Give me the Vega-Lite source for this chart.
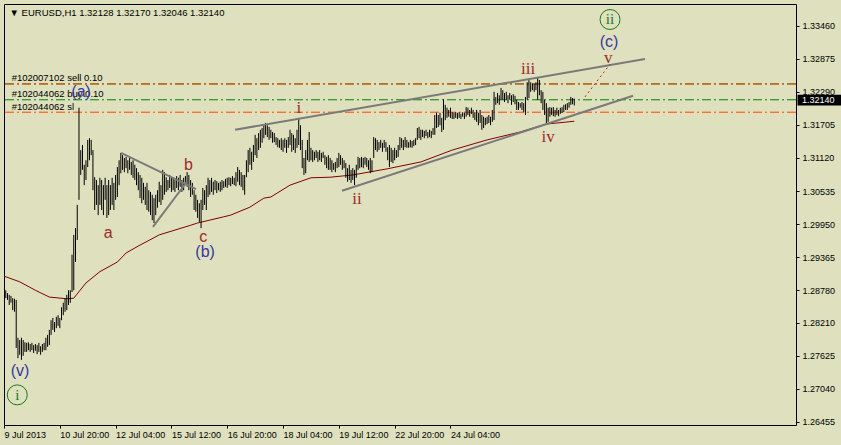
{
  "$schema": "https://vega.github.io/schema/vega-lite/v6.json",
  "width": 792,
  "height": 421,
  "autosize": {"type": "none"},
  "padding": {"left": 4, "top": 4, "right": 45, "bottom": 20},
  "background": "#dee0be",
  "config": {
    "view": {"stroke": "#000000", "strokeWidth": 1, "fill": "#dee0be"},
    "axis": {"labelFont": "Liberation Sans", "labelFontSize": 9, "labelColor": "#000000", "tickColor": "#000000", "domain": false, "grid": false, "title": null, "labelOverlap": false},
    "axisY": {"labelOverlap": false, "labelBound": false, "tickCount": 30},
    "axisX": {"labelOverlap": false, "tickCount": 30}
  },
  "datasets": {
    "bars": [
      {"t":1,"h":1.2878,"l":1.2864},{"t":2,"h":1.2873,"l":1.2861},{"t":3,"h":1.2870,"l":1.2852},{"t":4,"h":1.2868,"l":1.2856},{"t":5,"h":1.2864,"l":1.2843},
      {"t":6,"h":1.2863,"l":1.2840},{"t":7,"h":1.2861,"l":1.2776},{"t":8,"h":1.2794,"l":1.2758},{"t":9,"h":1.2790,"l":1.2764},{"t":10,"h":1.2794,"l":1.2755},
      {"t":11,"h":1.2790,"l":1.2762},{"t":12,"h":1.2786,"l":1.2769},{"t":13,"h":1.2785,"l":1.2769},{"t":14,"h":1.2786,"l":1.2772},{"t":15,"h":1.2783,"l":1.2769},
      {"t":16,"h":1.2785,"l":1.2772},{"t":17,"h":1.2781,"l":1.2767},{"t":18,"h":1.2783,"l":1.2771},{"t":19,"h":1.2781,"l":1.2765},{"t":20,"h":1.2785,"l":1.2769},
      {"t":21,"h":1.2779,"l":1.2764},{"t":22,"h":1.2783,"l":1.2769},{"t":23,"h":1.2785,"l":1.2772},{"t":24,"h":1.2794,"l":1.2772},{"t":25,"h":1.2799,"l":1.2778},
      {"t":26,"h":1.2808,"l":1.2781},{"t":27,"h":1.2825,"l":1.2799},{"t":28,"h":1.2829,"l":1.2808},{"t":29,"h":1.2822,"l":1.2804},{"t":30,"h":1.2831,"l":1.2811},
      {"t":31,"h":1.2834,"l":1.2815},{"t":32,"h":1.2829,"l":1.2811},{"t":33,"h":1.2848,"l":1.2825},{"t":34,"h":1.2856,"l":1.2834},{"t":35,"h":1.2864,"l":1.2840},
      {"t":36,"h":1.2870,"l":1.2843},{"t":37,"h":1.2878,"l":1.2852},{"t":38,"h":1.2878,"l":1.2856},{"t":39,"h":1.2941,"l":1.2875},{"t":40,"h":1.2976,"l":1.2878},
      {"t":41,"h":1.2988,"l":1.2928},{"t":42,"h":1.3029,"l":1.2967},{"t":43,"h":1.3201,"l":1.3038},{"t":44,"h":1.3126,"l":1.3082},{"t":45,"h":1.3135,"l":1.3091},
      {"t":46,"h":1.3100,"l":1.3064},{"t":47,"h":1.3108,"l":1.3073},{"t":48,"h":1.3144,"l":1.3096},{"t":49,"h":1.3147,"l":1.3108},{"t":50,"h":1.3144,"l":1.3117},
      {"t":51,"h":1.3126,"l":1.3055},{"t":52,"h":1.3078,"l":1.3020},{"t":53,"h":1.3073,"l":1.3029},{"t":54,"h":1.3064,"l":1.3011},{"t":55,"h":1.3077,"l":1.3029},
      {"t":56,"h":1.3073,"l":1.3020},{"t":57,"h":1.3064,"l":1.3011},{"t":58,"h":1.3077,"l":1.3038},{"t":59,"h":1.3064,"l":1.3006},{"t":60,"h":1.3073,"l":1.3011},
      {"t":61,"h":1.3064,"l":1.3020},{"t":62,"h":1.3077,"l":1.3029},{"t":63,"h":1.3068,"l":1.3020},{"t":64,"h":1.3082,"l":1.3038},{"t":65,"h":1.3096,"l":1.3043},
      {"t":66,"h":1.3108,"l":1.3064},{"t":67,"h":1.3121,"l":1.3085},{"t":68,"h":1.3117,"l":1.3091},{"t":69,"h":1.3112,"l":1.3087},{"t":70,"h":1.3114,"l":1.3094},
      {"t":71,"h":1.3108,"l":1.3085},{"t":72,"h":1.3112,"l":1.3091},{"t":73,"h":1.3105,"l":1.3082},{"t":74,"h":1.3108,"l":1.3077},{"t":75,"h":1.3100,"l":1.3073},
      {"t":76,"h":1.3094,"l":1.3064},{"t":77,"h":1.3087,"l":1.3055},{"t":78,"h":1.3082,"l":1.3041},{"t":79,"h":1.3077,"l":1.3032},{"t":80,"h":1.3068,"l":1.3038},
      {"t":81,"h":1.3061,"l":1.3029},{"t":82,"h":1.3068,"l":1.3020},{"t":83,"h":1.3055,"l":1.3017},{"t":84,"h":1.3052,"l":1.3011},{"t":85,"h":1.3047,"l":1.3002},
      {"t":86,"h":1.3041,"l":1.2997},{"t":87,"h":1.3047,"l":1.3011},{"t":88,"h":1.3055,"l":1.3024},{"t":89,"h":1.3070,"l":1.3034},{"t":90,"h":1.3064,"l":1.3029},
      {"t":91,"h":1.3091,"l":1.3038},{"t":92,"h":1.3087,"l":1.3047},{"t":93,"h":1.3078,"l":1.3052},{"t":94,"h":1.3073,"l":1.3055},{"t":95,"h":1.3082,"l":1.3059},
      {"t":96,"h":1.3077,"l":1.3052},{"t":97,"h":1.3078,"l":1.3055},{"t":98,"h":1.3073,"l":1.3052},{"t":99,"h":1.3080,"l":1.3059},{"t":100,"h":1.3077,"l":1.3055},
      {"t":101,"h":1.3082,"l":1.3061},{"t":102,"h":1.3073,"l":1.3052},{"t":103,"h":1.3077,"l":1.3055},{"t":104,"h":1.3080,"l":1.3064},{"t":105,"h":1.3087,"l":1.3061},
      {"t":106,"h":1.3082,"l":1.3055},{"t":107,"h":1.3073,"l":1.3043},{"t":108,"h":1.3068,"l":1.3047},{"t":109,"h":1.3055,"l":1.3020},{"t":110,"h":1.3047,"l":1.3017},
      {"t":111,"h":1.3038,"l":1.3006},{"t":112,"h":1.3032,"l":1.2999},{"t":113,"h":1.3038,"l":1.2988},{"t":114,"h":1.3059,"l":1.3020},{"t":115,"h":1.3055,"l":1.3029},
      {"t":116,"h":1.3064,"l":1.3020},{"t":117,"h":1.3077,"l":1.3043},{"t":118,"h":1.3073,"l":1.3047},{"t":119,"h":1.3077,"l":1.3052},{"t":120,"h":1.3070,"l":1.3047},
      {"t":121,"h":1.3073,"l":1.3055},{"t":122,"h":1.3071,"l":1.3050},{"t":123,"h":1.3068,"l":1.3055},{"t":124,"h":1.3070,"l":1.3052},{"t":125,"h":1.3073,"l":1.3055},
      {"t":126,"h":1.3071,"l":1.3059},{"t":127,"h":1.3075,"l":1.3061},{"t":128,"h":1.3077,"l":1.3059},{"t":129,"h":1.3078,"l":1.3064},{"t":130,"h":1.3077,"l":1.3062},
      {"t":131,"h":1.3080,"l":1.3066},{"t":132,"h":1.3077,"l":1.3064},{"t":133,"h":1.3087,"l":1.3062},{"t":134,"h":1.3096,"l":1.3070},{"t":135,"h":1.3091,"l":1.3064},
      {"t":136,"h":1.3087,"l":1.3061},{"t":137,"h":1.3082,"l":1.3055},{"t":138,"h":1.3082,"l":1.3047},{"t":139,"h":1.3108,"l":1.3078},{"t":140,"h":1.3126,"l":1.3087},
      {"t":141,"h":1.3130,"l":1.3100},{"t":142,"h":1.3123,"l":1.3091},{"t":143,"h":1.3135,"l":1.3105},{"t":144,"h":1.3153,"l":1.3117},{"t":145,"h":1.3147,"l":1.3112},
      {"t":146,"h":1.3156,"l":1.3126},{"t":147,"h":1.3162,"l":1.3130},{"t":148,"h":1.3165,"l":1.3139},{"t":149,"h":1.3170,"l":1.3147},{"t":150,"h":1.3174,"l":1.3153},
      {"t":151,"h":1.3170,"l":1.3149},{"t":152,"h":1.3167,"l":1.3144},{"t":153,"h":1.3162,"l":1.3147},{"t":154,"h":1.3158,"l":1.3139},{"t":155,"h":1.3156,"l":1.3140},
      {"t":156,"h":1.3149,"l":1.3135},{"t":157,"h":1.3147,"l":1.3131},{"t":158,"h":1.3144,"l":1.3130},{"t":159,"h":1.3147,"l":1.3126},{"t":160,"h":1.3144,"l":1.3123},
      {"t":161,"h":1.3147,"l":1.3130},{"t":162,"h":1.3144,"l":1.3121},{"t":163,"h":1.3149,"l":1.3130},{"t":164,"h":1.3162,"l":1.3135},{"t":165,"h":1.3156,"l":1.3123},
      {"t":166,"h":1.3153,"l":1.3126},{"t":167,"h":1.3147,"l":1.3121},{"t":168,"h":1.3162,"l":1.3130},{"t":169,"h":1.3183,"l":1.3135},{"t":170,"h":1.3170,"l":1.3126},
      {"t":171,"h":1.3144,"l":1.3094},{"t":172,"h":1.3112,"l":1.3082},{"t":173,"h":1.3126,"l":1.3085},{"t":174,"h":1.3144,"l":1.3108},{"t":175,"h":1.3158,"l":1.3105},
      {"t":176,"h":1.3130,"l":1.3108},{"t":177,"h":1.3126,"l":1.3105},{"t":178,"h":1.3123,"l":1.3108},{"t":179,"h":1.3126,"l":1.3112},{"t":180,"h":1.3123,"l":1.3105},
      {"t":181,"h":1.3126,"l":1.3108},{"t":182,"h":1.3121,"l":1.3105},{"t":183,"h":1.3123,"l":1.3112},{"t":184,"h":1.3117,"l":1.3100},{"t":185,"h":1.3114,"l":1.3094},
      {"t":186,"h":1.3117,"l":1.3091},{"t":187,"h":1.3112,"l":1.3091},{"t":188,"h":1.3108,"l":1.3087},{"t":189,"h":1.3103,"l":1.3091},{"t":190,"h":1.3105,"l":1.3087},
      {"t":191,"h":1.3112,"l":1.3094},{"t":192,"h":1.3121,"l":1.3096},{"t":193,"h":1.3117,"l":1.3100},{"t":194,"h":1.3112,"l":1.3091},{"t":195,"h":1.3108,"l":1.3094},
      {"t":196,"h":1.3103,"l":1.3077},{"t":197,"h":1.3094,"l":1.3070},{"t":198,"h":1.3100,"l":1.3073},{"t":199,"h":1.3091,"l":1.3068},{"t":200,"h":1.3094,"l":1.3073},
      {"t":201,"h":1.3091,"l":1.3064},{"t":202,"h":1.3100,"l":1.3077},{"t":203,"h":1.3114,"l":1.3091},{"t":204,"h":1.3112,"l":1.3094},{"t":205,"h":1.3114,"l":1.3096},
      {"t":206,"h":1.3112,"l":1.3094},{"t":207,"h":1.3114,"l":1.3100},{"t":208,"h":1.3112,"l":1.3096},{"t":209,"h":1.3108,"l":1.3091},{"t":210,"h":1.3112,"l":1.3085},
      {"t":211,"h":1.3108,"l":1.3087},{"t":212,"h":1.3149,"l":1.3112},{"t":213,"h":1.3147,"l":1.3126},{"t":214,"h":1.3144,"l":1.3123},{"t":215,"h":1.3140,"l":1.3126},
      {"t":216,"h":1.3144,"l":1.3130},{"t":217,"h":1.3139,"l":1.3123},{"t":218,"h":1.3144,"l":1.3130},{"t":219,"h":1.3140,"l":1.3123},{"t":220,"h":1.3131,"l":1.3108},
      {"t":221,"h":1.3135,"l":1.3096},{"t":222,"h":1.3130,"l":1.3105},{"t":223,"h":1.3126,"l":1.3103},{"t":224,"h":1.3130,"l":1.3108},{"t":225,"h":1.3126,"l":1.3112},
      {"t":226,"h":1.3135,"l":1.3114},{"t":227,"h":1.3149,"l":1.3126},{"t":228,"h":1.3147,"l":1.3130},{"t":229,"h":1.3144,"l":1.3126},{"t":230,"h":1.3149,"l":1.3131},
      {"t":231,"h":1.3144,"l":1.3130},{"t":232,"h":1.3140,"l":1.3130},{"t":233,"h":1.3144,"l":1.3131},{"t":234,"h":1.3142,"l":1.3130},{"t":235,"h":1.3144,"l":1.3133},
      {"t":236,"h":1.3147,"l":1.3135},{"t":237,"h":1.3165,"l":1.3144},{"t":238,"h":1.3167,"l":1.3147},{"t":239,"h":1.3162,"l":1.3144},{"t":240,"h":1.3162,"l":1.3149},
      {"t":241,"h":1.3160,"l":1.3147},{"t":242,"h":1.3162,"l":1.3151},{"t":243,"h":1.3158,"l":1.3147},{"t":244,"h":1.3162,"l":1.3149},{"t":245,"h":1.3160,"l":1.3147},
      {"t":246,"h":1.3165,"l":1.3153},{"t":247,"h":1.3188,"l":1.3153},{"t":248,"h":1.3192,"l":1.3165},{"t":249,"h":1.3188,"l":1.3167},{"t":250,"h":1.3192,"l":1.3170},
      {"t":251,"h":1.3183,"l":1.3158},{"t":252,"h":1.3216,"l":1.3162},{"t":253,"h":1.3206,"l":1.3179},{"t":254,"h":1.3201,"l":1.3183},{"t":255,"h":1.3197,"l":1.3185},
      {"t":256,"h":1.3201,"l":1.3183},{"t":257,"h":1.3193,"l":1.3181},{"t":258,"h":1.3192,"l":1.3181},{"t":259,"h":1.3193,"l":1.3183},{"t":260,"h":1.3192,"l":1.3181},
      {"t":261,"h":1.3193,"l":1.3183},{"t":262,"h":1.3190,"l":1.3181},{"t":263,"h":1.3193,"l":1.3185},{"t":264,"h":1.3192,"l":1.3181},{"t":265,"h":1.3202,"l":1.3185},
      {"t":266,"h":1.3201,"l":1.3188},{"t":267,"h":1.3197,"l":1.3185},{"t":268,"h":1.3201,"l":1.3190},{"t":269,"h":1.3197,"l":1.3183},{"t":270,"h":1.3193,"l":1.3179},
      {"t":271,"h":1.3197,"l":1.3176},{"t":272,"h":1.3192,"l":1.3170},{"t":273,"h":1.3197,"l":1.3174},{"t":274,"h":1.3188,"l":1.3162},{"t":275,"h":1.3185,"l":1.3165},
      {"t":276,"h":1.3183,"l":1.3170},{"t":277,"h":1.3185,"l":1.3172},{"t":278,"h":1.3188,"l":1.3174},{"t":279,"h":1.3185,"l":1.3170},{"t":280,"h":1.3197,"l":1.3176},
      {"t":281,"h":1.3229,"l":1.3179},{"t":282,"h":1.3220,"l":1.3206},{"t":283,"h":1.3227,"l":1.3209},{"t":284,"h":1.3223,"l":1.3206},{"t":285,"h":1.3236,"l":1.3215},
      {"t":286,"h":1.3232,"l":1.3215},{"t":287,"h":1.3227,"l":1.3211},{"t":288,"h":1.3229,"l":1.3215},{"t":289,"h":1.3223,"l":1.3209},{"t":290,"h":1.3227,"l":1.3215},
      {"t":291,"h":1.3223,"l":1.3206},{"t":292,"h":1.3225,"l":1.3211},{"t":293,"h":1.3222,"l":1.3207},{"t":294,"h":1.3215,"l":1.3197},{"t":295,"h":1.3211,"l":1.3197},
      {"t":296,"h":1.3209,"l":1.3201},{"t":297,"h":1.3211,"l":1.3197},{"t":298,"h":1.3209,"l":1.3193},{"t":299,"h":1.3220,"l":1.3188},{"t":300,"h":1.3246,"l":1.3215},
      {"t":301,"h":1.3250,"l":1.3218},{"t":302,"h":1.3246,"l":1.3229},{"t":303,"h":1.3244,"l":1.3232},{"t":304,"h":1.3243,"l":1.3229},{"t":305,"h":1.3246,"l":1.3232},
      {"t":306,"h":1.3255,"l":1.3215},{"t":307,"h":1.3250,"l":1.3223},{"t":308,"h":1.3232,"l":1.3209},{"t":309,"h":1.3229,"l":1.3197},{"t":310,"h":1.3215,"l":1.3188},
      {"t":311,"h":1.3209,"l":1.3174},{"t":312,"h":1.3201,"l":1.3176},{"t":313,"h":1.3202,"l":1.3185},{"t":314,"h":1.3201,"l":1.3188},{"t":315,"h":1.3202,"l":1.3186},
      {"t":316,"h":1.3197,"l":1.3185},{"t":317,"h":1.3201,"l":1.3188},{"t":318,"h":1.3197,"l":1.3186},{"t":319,"h":1.3201,"l":1.3190},{"t":320,"h":1.3202,"l":1.3192},
      {"t":321,"h":1.3206,"l":1.3193},{"t":322,"h":1.3207,"l":1.3197},{"t":323,"h":1.3209,"l":1.3197},{"t":324,"h":1.3211,"l":1.3201},{"t":325,"h":1.3220,"l":1.3206},
      {"t":326,"h":1.3218,"l":1.3207},{"t":327,"h":1.3217,"l":1.3205}
    ],
    "ma": [
      {"t":0,"p":1.2903},{"t":9,"p":1.2893},{"t":18,"p":1.2878},{"t":26,"p":1.2866},{"t":36,"p":1.2863},{"t":40,"p":1.2864},
      {"t":47,"p":1.2891},{"t":55,"p":1.2911},{"t":65,"p":1.2928},{"t":70,"p":1.2944},{"t":78,"p":1.2958},{"t":86,"p":1.2971},
      {"t":89,"p":1.2976},{"t":107,"p":1.2993},{"t":111,"p":1.2997},{"t":126,"p":1.3008},{"t":130,"p":1.3011},{"t":141,"p":1.3025},
      {"t":149,"p":1.3041},{"t":153,"p":1.3043},{"t":164,"p":1.3064},{"t":176,"p":1.3077},{"t":187,"p":1.3078},{"t":200,"p":1.3082},
      {"t":220,"p":1.3093},{"t":239,"p":1.3105},{"t":257,"p":1.3126},{"t":277,"p":1.3144},{"t":296,"p":1.3158},{"t":311,"p":1.3172},{"t":327,"p":1.3177}
    ],
    "levels": [
      {"p":1.3243,"k":"order"},{"p":1.3243,"k":"sl"},{"p":1.3215,"k":"order"},{"p":1.3193,"k":"sl"}
    ],
    "trend": [
      {"id":"tri1","t":67.1,"p":1.3121},{"id":"tri1","t":110.1,"p":1.3057},
      {"id":"tri2","t":85.4,"p":1.2990},{"id":"tri2","t":104.9,"p":1.3070},
      {"id":"up","t":132.5,"p":1.3162},{"id":"up","t":367.5,"p":1.3287},
      {"id":"lo","t":193.8,"p":1.3054},{"id":"lo","t":360.7,"p":1.3222}
    ],
    "proj": [{"t":333.1,"p":1.3220},{"t":347.5,"p":1.3278}],
    "sansMaroon": [
      {"t":59.8,"p":1.2979,"s":"a"},{"t":105.7,"p":1.3100,"s":"b"},{"t":114.3,"p":1.2973,"s":"c"}
    ],
    "romanMaroon": [
      {"t":169,"p":1.3201,"s":"i"},{"t":202.4,"p":1.3039,"s":"ii"},{"t":300.5,"p":1.3269,"s":"iii"},{"t":312,"p":1.3149,"s":"iv"},{"t":346.5,"p":1.3289,"s":"v"}
    ],
    "blue": [
      {"t":44.2,"p":1.3229,"s":"(a)"},{"t":115.3,"p":1.2946,"s":"(b)"},{"t":346.9,"p":1.3318,"s":"(c)"},{"t":9.2,"p":1.2735,"s":"(v)"}
    ],
    "circles": [
      {"t":7.6,"p":1.2693,"s":"i"},{"t":347.5,"p":1.3357,"s":"ii"}
    ],
    "orders": [
      {"t":4.4,"p":1.3254,"s":"#102007102 sell 0.10"},{"t":4.4,"p":1.3225,"s":"#102044062 buy 0.10"},{"t":4.4,"p":1.3202,"s":"#102044062 sl"}
    ],
    "header": [{"t":3.2,"p":1.3368,"s":"▼ EURUSD,H1  1.32128 1.32170 1.32046 1.32140"}],
    "last": [{"t1":455,"t2":484,"p1":1.3224,"p2":1.3205,"tx":457.5,"p":1.3214,"s":"1.32140"}]
  },
  "layer": [
    {
      "data": {"name": "ma"},
      "mark": {"type": "line", "color": "#800000", "strokeWidth": 1, "clip": true},
      "encoding": {
        "x": {"field": "t", "type": "quantitative", "scale": {"domain": [0, 454.13], "nice": false, "zero": false},
          "axis": {"orient": "bottom", "values": [0, 32, 64, 96, 128, 160, 192, 224, 256], "tickCount": 30,
            "labelExpr": "['9 Jul 2013','10 Jul 20:00','12 Jul 04:00','15 Jul 12:00','16 Jul 20:00','18 Jul 04:00','19 Jul 12:00','22 Jul 20:00','24 Jul 04:00'][round(datum.value/32)]",
            "labelAlign": "left", "labelFlush": false, "labelOverlap": false, "tickSize": 3, "labelPadding": 2}},
        "y": {"field": "p", "type": "quantitative", "scale": {"domain": [1.26397, 1.33844], "nice": false, "zero": false},
          "axis": {"orient": "right", "values": [1.3346, 1.32875, 1.3229, 1.31705, 1.3112, 1.30535, 1.2995, 1.29365, 1.2878, 1.2821, 1.27625, 1.2704, 1.26455], "tickCount": 30,
            "labelExpr": "format(datum.value, '.5f')", "tickSize": 3, "labelPadding": 3, "labelOverlap": false, "labelBaseline": "middle"}}
      }
    },
    {
      "data": {"name": "levels"},
      "mark": {"type": "rule", "strokeWidth": 1, "strokeDash": [9, 3, 2, 3]},
      "encoding": {
        "y": {"field": "p", "type": "quantitative"},
        "color": {"field": "k", "type": "nominal", "scale": {"domain": ["order", "sl"], "range": ["#008000", "#ff4500"]}, "legend": null},
        "strokeDashOffset": {"field": "k", "type": "nominal", "scale": {"domain": ["order", "sl"], "range": [0, 8]}, "legend": null}
      }
    },
    {
      "data": {"name": "bars"},
      "mark": {"type": "rule", "color": "#000000", "strokeWidth": 1, "clip": true},
      "encoding": {
        "x": {"field": "t", "type": "quantitative"},
        "y": {"field": "h", "type": "quantitative"},
        "y2": {"field": "l"}
      }
    },
    {
      "data": {"name": "trend"},
      "mark": {"type": "line", "color": "#7a7a7a", "strokeWidth": 2, "clip": true},
      "encoding": {
        "x": {"field": "t", "type": "quantitative"},
        "y": {"field": "p", "type": "quantitative"},
        "detail": {"field": "id", "type": "nominal"}
      }
    },
    {
      "data": {"name": "proj"},
      "mark": {"type": "line", "color": "#d02020", "strokeWidth": 1, "strokeDash": [2, 3]},
      "encoding": {
        "x": {"field": "t", "type": "quantitative"},
        "y": {"field": "p", "type": "quantitative"}
      }
    },
    {
      "data": {"name": "orders"},
      "mark": {"type": "text", "align": "left", "baseline": "middle", "font": "Liberation Sans", "fontSize": 9.5, "color": "#000000"},
      "encoding": {
        "x": {"field": "t", "type": "quantitative"},
        "y": {"field": "p", "type": "quantitative"},
        "text": {"field": "s"}
      }
    },
    {
      "data": {"name": "header"},
      "mark": {"type": "text", "align": "left", "baseline": "middle", "font": "Liberation Sans", "fontSize": 9.5, "color": "#000000"},
      "encoding": {
        "x": {"field": "t", "type": "quantitative"},
        "y": {"field": "p", "type": "quantitative"},
        "text": {"field": "s"}
      }
    },
    {
      "data": {"name": "sansMaroon"},
      "mark": {"type": "text", "align": "center", "baseline": "middle", "font": "Liberation Sans", "fontSize": 16, "color": "#a02a2a"},
      "encoding": {
        "x": {"field": "t", "type": "quantitative"},
        "y": {"field": "p", "type": "quantitative"},
        "text": {"field": "s"}
      }
    },
    {
      "data": {"name": "romanMaroon"},
      "mark": {"type": "text", "align": "center", "baseline": "middle", "font": "Liberation Serif", "fontSize": 17, "color": "#a02a2a"},
      "encoding": {
        "x": {"field": "t", "type": "quantitative"},
        "y": {"field": "p", "type": "quantitative"},
        "text": {"field": "s"}
      }
    },
    {
      "data": {"name": "blue"},
      "mark": {"type": "text", "align": "center", "baseline": "middle", "font": "Liberation Sans", "fontSize": 16, "color": "#3838a0"},
      "encoding": {
        "x": {"field": "t", "type": "quantitative"},
        "y": {"field": "p", "type": "quantitative"},
        "text": {"field": "s"}
      }
    },
    {
      "data": {"name": "circles"},
      "mark": {"type": "point", "shape": "circle", "size": 400, "filled": false, "stroke": "#1a7a1a", "strokeWidth": 1, "opacity": 1},
      "encoding": {
        "x": {"field": "t", "type": "quantitative"},
        "y": {"field": "p", "type": "quantitative"}
      }
    },
    {
      "data": {"name": "circles"},
      "mark": {"type": "text", "align": "center", "baseline": "middle", "font": "Liberation Serif", "fontSize": 15, "color": "#1a7a1a"},
      "encoding": {
        "x": {"field": "t", "type": "quantitative"},
        "y": {"field": "p", "type": "quantitative"},
        "text": {"field": "s"}
      }
    },
    {
      "data": {"name": "last"},
      "mark": {"type": "rect", "color": "#000000", "clip": false},
      "encoding": {
        "x": {"field": "t1", "type": "quantitative"},
        "x2": {"field": "t2"},
        "y": {"field": "p1", "type": "quantitative"},
        "y2": {"field": "p2"}
      }
    },
    {
      "data": {"name": "last"},
      "mark": {"type": "text", "align": "left", "baseline": "middle", "font": "Liberation Sans", "fontSize": 9, "color": "#ffffff", "clip": false},
      "encoding": {
        "x": {"field": "tx", "type": "quantitative"},
        "y": {"field": "p", "type": "quantitative"},
        "text": {"field": "s"}
      }
    }
  ]
}
